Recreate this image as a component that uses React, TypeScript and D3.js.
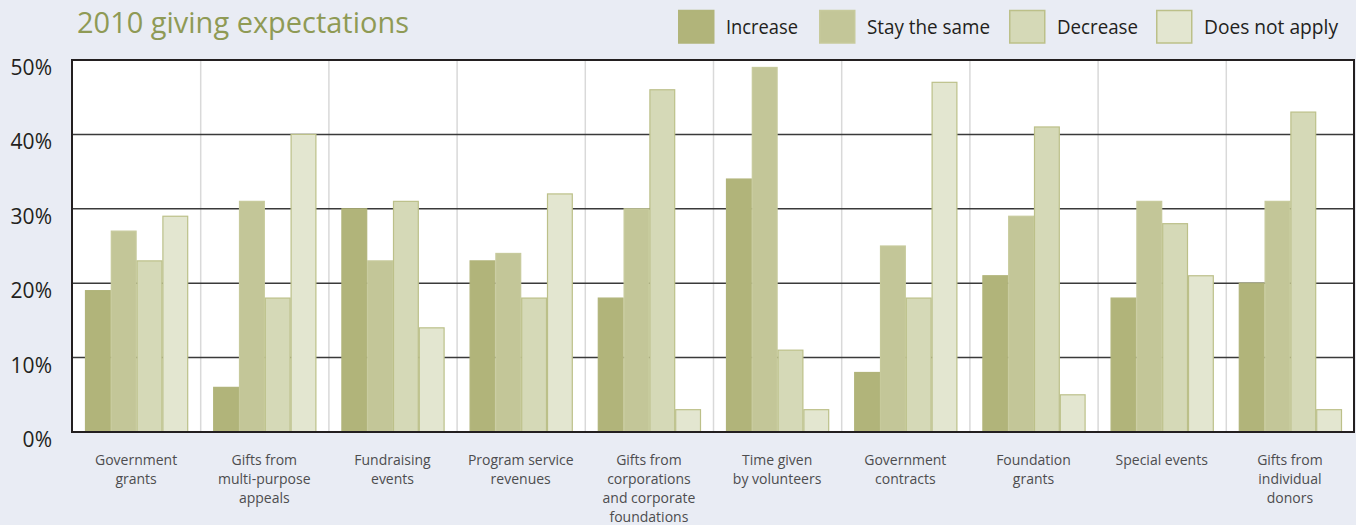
import React from "react";
import * as d3 from "d3";

const categories: string[][] = [
  ["Government", "grants"],
  ["Gifts from", "multi-purpose", "appeals"],
  ["Fundraising", "events"],
  ["Program service", "revenues"],
  ["Gifts from", "corporations", "and corporate", "foundations"],
  ["Time given", "by volunteers"],
  ["Government", "contracts"],
  ["Foundation", "grants"],
  ["Special events"],
  ["Gifts from", "individual", "donors"],
];
const seriesNames = ["Increase", "Stay the same", "Decrease", "Does not apply"];
const increase = [19, 6, 30, 23, 18, 34, 8, 21, 18, 20];
const staySame = [27, 31, 23, 24, 30, 49, 25, 29, 31, 31];
const decrease = [23, 18, 31, 18, 46, 11, 18, 41, 28, 43];
const doesNotApply = [29, 40, 14, 32, 3, 3, 47, 5, 21, 3];
const yTicks = [0, 10, 20, 30, 40, 50];

const fills = ["#b1b47a", "#c3c698", "#d5d9b7", "#e3e6d0"];
const strokes = ["#b1b47a", "#c7ca9c", "#bcc089", "#bcc089"];
const font = "'Open Sans', 'Noto Sans', sans-serif";

export default function App() {
  const W = 1356, H = 525;
  const left = 72, right = 1354, top = 60, bottom = 432;
  const series = [increase, staySame, decrease, doesNotApply];
  const x0 = d3.scaleBand<number>().domain(d3.range(categories.length)).range([left, right]);
  const inner = 13;
  const x1 = d3.scaleBand<number>().domain([0, 1, 2, 3]).range([inner, x0.bandwidth() - inner + 1]);
  const y = d3.scaleLinear().domain([0, 50]).range([bottom, top]);

  const legendX = [678, 819, 1009, 1156];
  const legendTextW = [72, 123, 81, 134];

  return (
    <svg width={W} height={H} style={{ display: "block", position: "absolute", left: 0, top: 0 }}>
      <rect x={0} y={0} width={W} height={H} fill="#e9ecf4" />
      <text x={77} y={33} fontFamily={font} fontSize={29} fill="#8f9a55" textLength={332} lengthAdjust="spacingAndGlyphs">2010 giving expectations</text>
      {seriesNames.map((n, i) => (
        <g key={n}>
          <rect x={legendX[i] + 0.75} y={10.5} width={35} height={32.5} fill={fills[i]} stroke={strokes[i]} strokeWidth={1.5} />
          <text x={legendX[i] + 48} y={34} fontFamily={font} fontSize={20} fill="#231f20"
            textLength={legendTextW[i]} lengthAdjust="spacingAndGlyphs">{n}</text>
        </g>
      ))}
      <rect x={left} y={top} width={right - left} height={bottom - top} fill="#ffffff" />
      {d3.range(1, categories.length).map((i) => (
        <line key={i} x1={x0(i)! + 0.5} x2={x0(i)! + 0.5} y1={top} y2={bottom} stroke="#d9d9d9" strokeWidth={1.5} />
      ))}
      {yTicks.slice(1, -1).map((t) => (
        <line key={t} x1={left} x2={right} y1={y(t)} y2={y(t)} stroke="#3a3a3a" strokeWidth={1.5} />
      ))}
      {categories.map((c, ci) =>
        series.map((s, si) => {
          const bx = x0(ci)! + x1(si)!;
          const by = y(s[ci]);
          return (
            <rect key={ci + "-" + si} x={bx + 0.5} y={by} width={x1.bandwidth() - 1} height={bottom - by}
              fill={fills[si]} stroke={strokes[si]} strokeWidth={1.2} />
          );
        })
      )}
      <path d={`M${left},${top}H${right}V${bottom}H${left}Z`} fill="none" stroke="#231f20" strokeWidth={2} />
      {yTicks.map((t) => (
        <text key={t} x={52} y={y(t) + 15} textAnchor="end" fontFamily={font} fontSize={21} fill="#231f20">{t}%</text>
      ))}
      {categories.map((c, ci) => (
        <text key={ci} textAnchor="middle" fontFamily={font} fontSize={14} fill="#4d4d4f">
          {c.map((line, li) => (
            <tspan key={li} x={x0(ci)! + x0.bandwidth() / 2} y={465 + li * 19}>{line}</tspan>
          ))}
        </text>
      ))}
    </svg>
  );
}
